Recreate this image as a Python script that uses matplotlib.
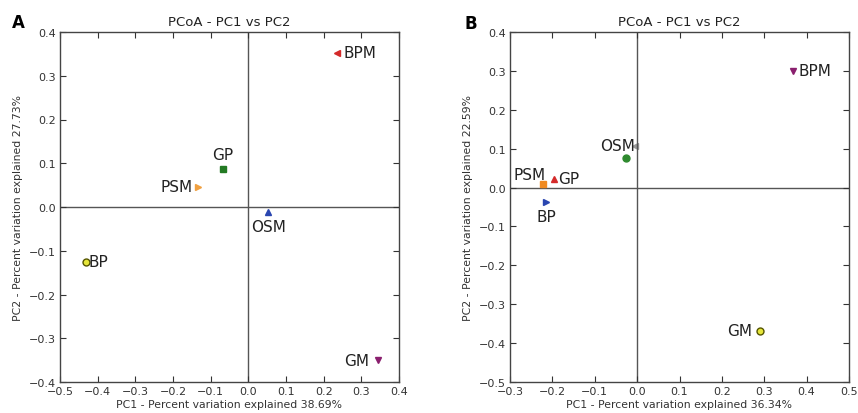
import numpy as np
import matplotlib
matplotlib.use("Agg")
import matplotlib.pyplot as plt

# panel A data (PC1, PC2)
a_names  = ["BPM", "GP", "PSM", "OSM", "BP", "GM"]
a_pc1    = [0.235, -0.068, -0.134, 0.053, -0.432, 0.344]
a_pc2    = [0.352, 0.087, 0.046, -0.012, -0.125, -0.350]
a_marker = ["<", "s", ">", "^", "o", "v"]
a_color  = ["#d42a2a", "#237a23", "#f0a040", "#2a46b0", "#e6e63a", "#8a1f6e"]

# panel B data
b_names  = ["BPM", "OSM", "PSM", "GP", "BP", "GM"]
b_pc1    = [0.368, -0.027, -0.222, -0.196, -0.214, 0.291]
b_pc2    = [0.301, 0.075, 0.008, 0.022, -0.038, -0.368]
b_marker = ["v", "o", "s", "^", ">", "o"]
b_color  = ["#8a1f6e", "#2f8a2f", "#f08a20", "#d42a2a", "#2a46b0", "#e6e63a"]

# unlabeled grey point partly hidden under the y axis line in panel B
b_extra_pc1 = [-0.004]
b_extra_pc2 = [0.108]

a_xlab = "PC1 - Percent variation explained 38.69%"
a_ylab = "PC2 - Percent variation explained 27.73%"
b_xlab = "PC1 - Percent variation explained 36.34%"
b_ylab = "PC2 - Percent variation explained 22.59%"

# label offsets in points (dx, dy, ha, va)
a_lab = [(5, 0, "left", "center"), (0, 5, "center", "bottom"),
         (-4, 0, "right", "center"), (0, -5, "center", "top"),
         (2, 0, "left", "center"), (-6, 0, "right", "center")]
b_lab = [(4, 0, "left", "center"), (-6, 4, "center", "bottom"),
         (2, 2, "right", "bottom"), (3, 0, "left", "center"),
         (0, -5, "center", "top"), (-6, 0, "right", "center")]

fig = plt.figure(figsize=(8.58, 4.14), dpi=100)

ax_a = fig.add_axes([60/858, 1-383/414, 339/858, 350/414])
ax_b = fig.add_axes([510/858, 1-383/414, 339/858, 350/414])


def draw(ax, names, xs, ys, markers, colors, labs, xlim, ylim, xlab, ylab):
    ax.axhline(0, color="#555555", linewidth=1.0, zorder=1)
    ax.axvline(0, color="#555555", linewidth=1.0, zorder=1)
    for n, x, y, m, c, l in zip(names, xs, ys, markers, colors, labs):
        edge = "#555500" if c == "#e6e63a" else c
        ms = 5 if m == "o" else 4.5
        ax.plot(x, y, marker=m, color=c, markeredgecolor=edge,
                markersize=ms, linestyle="none", zorder=3)
        ax.annotate(n, (x, y), xytext=(l[0], l[1]), textcoords="offset points",
                    ha=l[2], va=l[3], fontsize=11, color="#222222")
    ax.set_xlim(xlim)
    ax.set_ylim(ylim)
    ax.set_xticks(np.round(np.arange(xlim[0], xlim[1] + 0.001, 0.1), 1))
    ax.set_yticks(np.round(np.arange(ylim[0], ylim[1] + 0.001, 0.1), 1))
    ax.tick_params(direction="in", top=True, right=True, length=4,
                   labelsize=8, pad=3, colors="#333333")
    for s in ax.spines.values():
        s.set_color("#444444")
        s.set_linewidth(1.0)
    ax.set_title("PCoA - PC1 vs PC2", fontsize=9.5, pad=5, color="#222222")
    ax.set_xlabel(xlab, fontsize=7.8, labelpad=2, color="#333333")
    ax.set_ylabel(ylab, fontsize=7.8, labelpad=4, color="#333333")


draw(ax_a, a_names, a_pc1, a_pc2, a_marker, a_color, a_lab,
     (-0.5, 0.4), (-0.4, 0.4), a_xlab, a_ylab)
draw(ax_b, b_names, b_pc1, b_pc2, b_marker, b_color, b_lab,
     (-0.3, 0.5), (-0.5, 0.4), b_xlab, b_ylab)

ax_b.plot(b_extra_pc1, b_extra_pc2, marker="<", color="#999999",
          markersize=4.5, linestyle="none", zorder=0.5)

fig.text(12/858, 1-23/414, "A", fontsize=12, fontweight="bold", va="center")
fig.text(465/858, 1-24/414, "B", fontsize=12, fontweight="bold", va="center")

plt.savefig("out.png", dpi=100)
plt.close()
